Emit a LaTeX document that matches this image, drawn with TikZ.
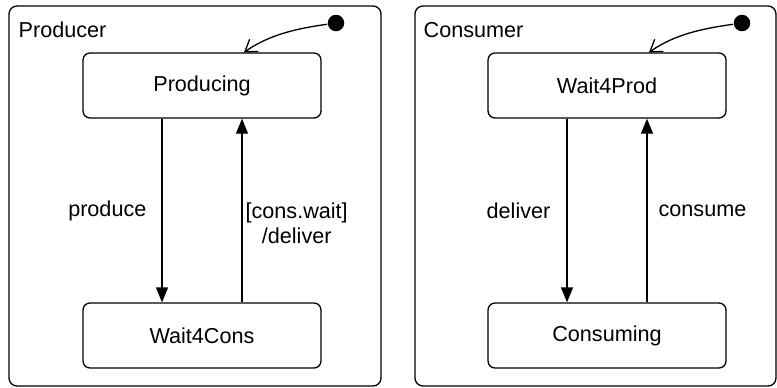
\documentclass[tikz,border=0pt]{standalone}
\usepackage{fontspec}
\setmainfont{Liberation Sans}
\usetikzlibrary{arrows.meta}

\begin{document}
\begin{tikzpicture}[
        x=0.02cm, y=-0.02cm,
        line width=0.75pt,
        font=\fontsize{12.3}{13.8}\selectfont,
        frame/.style={draw, rounded corners=0.16cm},
        statebox/.style={draw, rounded corners=0.14cm, minimum width=4.76cm,
          minimum height=1.3cm, inner sep=0pt},
        initdot/.style={circle, fill=black, minimum size=0.33cm, inner sep=0pt},
        title/.style={anchor=west, inner sep=0pt},
        init/.style={-{Straight Barb[length=0.22cm, width=0.3cm]}},
        trans/.style={-{Triangle[length=0.3cm, width=0.24cm]}},
      ]
      \useasboundingbox (0,0) rectangle (777,387);

      % producer
      \draw[frame] (9,6) rectangle (381,386);
      \node[title] (ptitle) at (18,30) {Producer};
      \node[initdot] (pinit) at (336,23) {};
      \node[statebox] (prod) at (202,85.5) {Producing};
      \node[statebox] (wcons) at (202,335.5) {Wait4Cons};

      % consumer
      \draw[frame] (415,6) rectangle (776,386);
      \node[title] (ctitle) at (423,30) {Consumer};
      \node[initdot] (cinit) at (742,23) {};
      \node[statebox] (wprod) at (607,85.5) {Wait4Prod};
      \node[statebox] (cons) at (607,335.5) {Consuming};

      \draw[init] (pinit) to[out=188, in=35, looseness=0.9] ([xshift=0.84cm]prod.north);
      \draw[init] (cinit) to[out=188, in=35, looseness=0.9] ([xshift=0.84cm]wprod.north);

      \path
      ([xshift=-0.8cm]prod.south) edge[trans]
        node[left=0.3cm, inner sep=0pt] {produce} ([xshift=-0.8cm]wcons.north)
      ([xshift=0.8cm]wcons.north) edge[trans]
        node[right=0.06cm, inner sep=0pt, pos=0.43, align=center]
        {[cons.wait]\\/deliver} ([xshift=0.8cm]prod.south)
      ([xshift=-0.8cm]wprod.south) edge[trans]
        node[left=0.32cm, inner sep=0pt] {deliver} ([xshift=-0.8cm]cons.north)
      ([xshift=0.8cm]cons.north) edge[trans]
        node[right=0.22cm, inner sep=0pt] {consume} ([xshift=0.8cm]wprod.south);

    \end{tikzpicture}
\end{document}
